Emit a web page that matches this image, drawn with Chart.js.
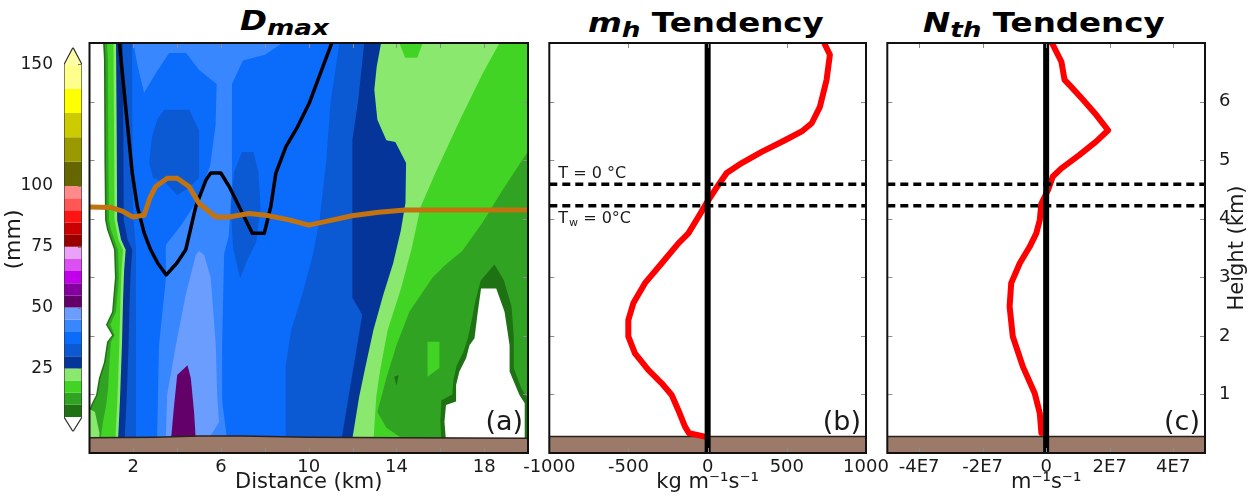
<!DOCTYPE html>
<html>
<head>
<meta charset="utf-8">
<script src="https://cdn.jsdelivr.net/npm/chart.js@4.4.1/dist/chart.umd.min.js"></script>
<style>
html,body{margin:0;padding:0;background:#fff;}
body{width:1258px;height:496px;position:relative;overflow:hidden;font-family:"DejaVu Sans",Verdana,sans-serif;color:#000;}
.cv{position:absolute;}
.ttl{position:absolute;font-weight:bold;font-size:26px;line-height:1;white-space:nowrap;color:#000;transform:scaleX(1.25);transform-origin:left top;}
.ttl i{font-style:italic;}
.ttl sub{font-size:21px;vertical-align:-5px;line-height:0;}
</style>
</head>
<body>
<div class="ttl" style="left:240px;top:8px"><i>D<sub>max</sub></i></div>
<div class="ttl" style="left:588px;top:9.5px"><i>m<sub>h</sub></i> Tendency</div>
<div class="ttl" style="left:923px;top:9.5px"><i>N<sub>th</sub></i> Tendency</div>
<div class="cv" style="left:0;top:40px;width:90px;height:400px"><canvas id="cb" width="90" height="400" style="width:90px;height:400px"></canvas></div>
<div class="cv" style="left:60px;top:38px;width:480px;height:458px"><canvas id="pa" width="480" height="458" style="width:480px;height:458px"></canvas></div>
<div class="cv" style="left:500px;top:38px;width:400px;height:458px"><canvas id="pb" width="400" height="458" style="width:400px;height:458px"></canvas></div>
<div class="cv" style="left:840px;top:38px;width:418px;height:458px"><canvas id="pc" width="418" height="458" style="width:418px;height:458px"></canvas></div>
<script>
// ---------------- data ----------------
const heightTicks = [1, 2, 3, 4, 5, 6];
const distTicks = [2, 4, 6, 8, 10, 12, 14, 16, 18];
const distTickLabels = ['2', '6', '10', '14', '18'];
const mhTicks = [-1000, -500, 0, 500, 1000];
const nthTicks = [-4e7, -2e7, 0, 2e7, 4e7];
const nthTickLabels = ['-4E7', '-2E7', '0', '2E7', '4E7'];

// colour bar (mm)
const cbLevels = [5,10,15,20,25,30,35,40,45,50,55,60,65,70,75,80,85,90,95,100,110,120,130,140,150];
const cbColors = ['#1f7214','#31a322','#42d424','#8ae86e','#053598','#0b59d3','#0b6cfb','#3987ff','#6b9dff',
                  '#63006a','#85009e','#c300ec','#db4ff3','#e9a2f7','#990000','#cc0000','#ff1414','#ff5656','#ff8a8a',
                  '#666600','#9a9a00','#cbcb00','#ffff00','#ffff8c'];
const cbOverColor = '#ffffa6';
const cbUnderColor = '#ffffff';
const cbTickValues = [25, 50, 75, 100, 150];

// panel (a): contour boundaries of Dmax (x = distance km, y = height km)
const edgeWhiteLeft = [[0.62,7.0],[0.66,6.71],[0.68,5.0],[0.71,3.98],[0.80,3.81],[1.12,3.47],[1.16,2.99],[1.03,2.41],[0.75,2.19],[1.03,2.01],[0.80,1.90],[0.66,1.55],[0.43,1.28],[0.30,0.99],[0.07,0.82],[0,0.73]];
const edgeGreen15Left = [[0.80,7.0],[0.84,6.71],[0.86,5.0],[0.89,3.98],[0.98,3.81],[1.30,3.47],[1.34,2.99],[1.21,2.41],[0.95,2.19],[1.15,2.01],[0.98,1.90],[0.90,1.5],[0.85,1.1],[0.75,0.8],[0.60,0.5],[0.50,0.2]];
const cornerLeft = [[0,0.75],[0.25,0.7],[0.45,0.35],[0.45,0.2],[0,0.2]];
const edgeBlueLeft = [[1.21,7.0],[1.24,5.5],[1.26,3.98],[1.44,3.64],[1.65,3.47],[1.58,3.12],[1.53,2.61],[1.48,1.84],[1.39,0.90],[1.30,0.2]];
const edgeMainLeft = [[1.94,7.0],[1.96,5.0],[2.0,4.0],[2.12,3.5],[2.12,2.0],[2.12,0.2]];
const edgeMainRight = [[11.4,7.0],[11.0,6.0],[10.8,5.0],[10.5,4.0],[10.2,3.4],[9.7,2.7],[9.2,2.1],[8.95,1.5],[8.93,0.2]];
const edgeNavyLeft = [[12.53,7.0],[12.26,6.03],[11.99,5.34],[11.99,2.65],[12.44,2.36],[11.48,0.2]];
const edgeNavyRight = [[13.30,7.0],[13.1,6.6],[12.99,6.2],[13.13,5.69],[13.54,5.34],[13.95,5.31],[14.44,4.95],[14.41,4.27],[14.2,3.8],[13.85,3.24],[13.4,2.7],[12.95,2.1],[12.6,1.5],[12.3,0.96],[11.97,0.2]];
const edgeGreen20Right = [[18.7,7.0],[17.95,6.49],[16.9,5.69],[15.8,4.8],[15.1,4.2],[14.7,3.5],[14.2,2.8],[13.6,2.1],[13.25,1.4],[13.08,0.96],[12.95,0.2]];
const edgeGreen15Right = [[20,5.15],[18.84,4.49],[17.92,3.93],[17.0,3.45],[16.2,3.2],[15.64,2.99],[14.59,2.41],[14.0,1.84],[13.54,1.28],[13.13,0.70],[13.54,0.43],[14.45,0.2]];
const rimDark = [[18.47,3.22],[18.9,2.95],[19.25,2.5],[19.35,2.0],[19.35,1.45],[19.7,1.1],[19.95,0.95],[20,0.2],[16.05,0.2],[16.0,0.55],[16.05,0.9],[16.55,1.0],[16.6,1.25],[16.75,1.5],[17.05,1.72],[17.25,1.95],[17.45,2.3],[17.6,2.6],[17.85,2.95]];
const holeWhite = [[17.86,2.81],[18.55,2.81],[18.93,2.41],[19.16,1.84],[19.16,1.39],[19.61,0.99],[19.85,0.85],[19.85,0.2],[16.26,0.2],[16.19,0.53],[16.26,0.82],[16.72,0.88],[16.72,1.16],[16.87,1.39],[17.18,1.62],[17.33,1.84],[17.56,1.96],[17.71,2.41]];
const patchGreen = [[15.42,1.90],[15.96,1.90],[15.96,1.45],[15.42,1.30]];
const spotDark = [[13.9,1.3],[14.1,1.33],[14.0,1.15]];
const notchGreen = [[14.13,7.0],[15.2,7.0],[14.95,6.75],[14.4,6.75]];
const oval1 = [[3.4,5.86],[4.55,5.86],[5.0,5.5],[5.0,4.7],[4.6,4.55],[4.0,4.4],[3.5,4.6],[2.9,4.7],[2.72,4.95],[2.85,5.4],[3.1,5.7]];
const oval2 = [[6.95,5.14],[7.48,5.14],[7.7,4.8],[7.8,4.2],[7.6,3.6],[7.2,3.3],[6.87,2.98],[6.55,3.5],[6.45,4.2],[6.6,4.8]];
const light40 = [[2.0,7.0],[8.8,7.0],[8.0,6.8],[7.0,6.7],[6.5,6.3],[6.5,4.6],[6.35,3.7],[6.14,3.4],[6.05,1.84],[6.05,0.9],[6.28,0.2],[3.08,0.2],[3.17,1.84],[3.49,3.0],[3.48,3.55],[4.2,3.9],[4.9,4.3],[5.5,4.9],[5.75,5.6],[5.8,6.3],[5.0,6.54],[4.41,6.83],[3.63,6.83],[3.04,6.49],[2.49,6.15],[2.2,6.6]];
const light45 = [[5.0,3.45],[5.23,3.38],[5.53,2.99],[5.76,1.84],[5.82,0.99],[5.91,0.53],[5.37,0.2],[3.48,0.2],[3.54,0.99],[3.94,1.84],[4.39,2.70],[4.85,3.38]];
const purple50 = [[4.47,1.50],[4.62,1.28],[4.77,0.70],[4.85,0.2],[3.71,0.2],[3.86,0.82],[4.0,1.33]];
const groundTopA = [[0,0.26],[3,0.27],[5,0.29],[7,0.29],[10,0.27],[14,0.26],[20,0.25]];
const contourBlack = [[1.35,7.05],[1.65,5.91],[1.95,4.78],[2.18,4.21],[2.49,3.76],[2.79,3.47],[3.1,3.25],[3.5,3.04],[3.98,3.24],[4.39,3.47],[4.85,4.21],[5.31,4.66],[5.53,4.78],[5.99,4.78],[6.37,4.55],[6.98,4.09],[7.43,3.75],[7.97,3.75],[8.27,4.21],[8.50,4.78],[8.96,5.23],[9.49,5.57],[10.02,5.97],[10.5,6.45],[11.1,7.05]];
const meltLine = [[0,4.2],[1.0,4.19],[1.5,4.13],[1.96,4.03],[2.49,4.06],[2.75,4.35],[3.02,4.55],[3.55,4.69],[4.0,4.69],[4.54,4.55],[5.0,4.26],[5.76,4.03],[6.37,4.03],[7.28,4.09],[8.05,4.06],[9.1,3.98],[10.0,3.89],[10.75,3.95],[11.97,4.05],[13.19,4.11],[14.4,4.15],[16.54,4.15],[20,4.15]];

// panels (b) and (c)
const groundTop = 0.28;
const freezeT = 4.59;
const freezeTw = 4.22;
const mhHeight = [7.05,6.97,6.80,6.37,5.91,5.63,5.49,5.34,5.14,4.95,4.78,4.49,4.27,4.03,3.75,3.58,3.24,2.90,2.56,2.27,1.99,1.70,1.42,1.19,0.99,0.73,0.45,0.34,0.28];
const mhValue  = [730,741,772,751,709,657,594,488,341,215,120,46,-6,-59,-122,-185,-290,-396,-469,-501,-501,-459,-375,-290,-227,-185,-143,-118,-17];
const nthHeight = [7.05,6.97,6.68,6.37,6.25,6.03,5.77,5.51,5.32,5.09,4.86,4.72,4.49,4.26,3.98,3.75,3.52,3.24,2.90,2.50,1.99,1.47,1.02,0.68,0.34];
const nthValue  = [0.12e7,0.21e7,0.48e7,0.58e7,0.79e7,1.16e7,1.58e7,1.95e7,1.58e7,1.05e7,0.48e7,0.21e7,0.06e7,-0.15e7,-0.20e7,-0.31e7,-0.52e7,-0.83e7,-1.10e7,-1.15e7,-1.05e7,-0.73e7,-0.36e7,-0.20e7,-0.15e7];

// ---------------- helpers ----------------
Chart.defaults.font.family = "'DejaVu Sans', Verdana, sans-serif";
Chart.defaults.color = '#1a1a1a';
const FONT = "'DejaVu Sans', Verdana, sans-serif";
const BROWN = '#9b7a69';
const bandColor = lo => cbColors[cbLevels.indexOf(lo)];
const pts = arr => arr.map(p => ({x: p[0], y: p[1]}));
const shift = (arr, dx) => arr.map(p => [p[0] + dx, p[1]]);
const rev = arr => arr.slice().reverse();
function poly(arr, color) {
  return {data: pts(arr), fill: 'shape', backgroundColor: color, borderColor: 'rgba(0,0,0,0)', borderWidth: 0, pointRadius: 0, tension: 0};
}
function curve(arr, color, width, extra) {
  return Object.assign({data: pts(arr), fill: false, borderColor: color, borderWidth: width, pointRadius: 0, tension: 0,
    borderJoinStyle: 'round', borderCapStyle: 'round'}, extra || {});
}
const zip = (xs, ys) => xs.map((x, i) => [x, ys[i]]);
// Chart.js paints dataset 0 last (on top); layers are listed bottom-first, so reverse them
const painterOrder = layers => layers.slice().reverse();
const noVPad = s => { s.paddingTop = 0; s.paddingBottom = 0; };

const framePlugin = {
  id: 'frame',
  afterDatasetsDraw(chart, args, o) {
    const {ctx, chartArea: a} = chart;
    const xs = chart.scales.x, ys = chart.scales.y;
    ctx.save();
    const len = o.len || 5;
    ctx.strokeStyle = o.tickColor || '#8c8c8c';
    ctx.lineWidth = 1;
    ctx.beginPath();
    (o.xTicks || []).forEach(v => {
      const p = Math.round(xs.getPixelForValue(v)) + 0.5;
      ctx.moveTo(p, a.bottom); ctx.lineTo(p, a.bottom - len);
      ctx.moveTo(p, a.top); ctx.lineTo(p, a.top + len);
    });
    (o.yTicks || []).forEach(v => {
      const p = Math.round(ys.getPixelForValue(v)) + 0.5;
      if (o.leftTicks !== false) { ctx.moveTo(a.left, p); ctx.lineTo(a.left + len, p); }
      ctx.moveTo(a.right, p); ctx.lineTo(a.right - len, p);
    });
    ctx.stroke();
    if (o.frame) {
      ctx.lineWidth = o.frame; ctx.strokeStyle = '#111';
      ctx.strokeRect(a.left, a.top, a.right - a.left, a.bottom - a.top);
    }
    ctx.fillStyle = '#1a1a1a';
    if (o.label) {
      ctx.font = '27px ' + FONT; ctx.textAlign = 'right'; ctx.textBaseline = 'alphabetic';
      ctx.fillText(o.label, a.right - 5, a.bottom - 23.5);
    }
    if (o.freezeLabels) {
      const x0 = a.left + 9;
      ctx.textAlign = 'left'; ctx.textBaseline = 'alphabetic';
      ctx.font = '16px ' + FONT;
      ctx.fillText('T = 0 °C', x0, ys.getPixelForValue(freezeT) - 6);
      const yb = ys.getPixelForValue(freezeTw) + 17.5;
      ctx.fillText('T', x0, yb);
      let w = ctx.measureText('T').width + 1;
      ctx.font = '11px ' + FONT;
      ctx.fillText('w', x0 + w, yb + 3);
      w += ctx.measureText('w').width;
      ctx.font = '16px ' + FONT;
      ctx.fillText(' = 0°C', x0 + w, yb);
    }
    if (o.rightTitle) {
      ctx.save();
      ctx.translate(chart.width - 20, (a.top + a.bottom) / 2);
      ctx.rotate(-Math.PI / 2);
      ctx.font = '21px ' + FONT; ctx.textAlign = 'center'; ctx.textBaseline = 'middle';
      ctx.fillText(o.rightTitle, 0, 0);
      ctx.restore();
    }
    ctx.restore();
  }
};

const baseOpts = {responsive: false, animation: false, events: [], devicePixelRatio: 1};

// ---------------- colour bar ----------------
const cbLayers = [];
for (let i = 0; i < cbColors.length; i++) {
  cbLayers.push(poly([[0, cbLevels[i]], [1, cbLevels[i]], [1, cbLevels[i + 1]], [0, cbLevels[i + 1]]], cbColors[i]));
}
cbLayers.push(poly([[0, 150], [1, 150], [0.5, 157]], cbOverColor));
cbLayers.push(poly([[0, 5], [1, 5], [0.5, -1]], cbUnderColor));
cbLayers.push(curve([[0, 5], [0.5, -1], [1, 5], [1, 150], [0.5, 157], [0, 150], [0, 5]], '#333', 1.2, {borderCapStyle: 'butt', borderJoinStyle: 'miter'}));
new Chart(document.getElementById('cb'), {
  type: 'line',
  data: {datasets: painterOrder(cbLayers)},
  options: Object.assign({}, baseOpts, {
    layout: {padding: {left: 0, right: 8, top: 7.4, bottom: 8.4}},
    plugins: {legend: {display: false}, tooltip: {enabled: false}, frame: {yTicks: cbTickValues, leftTicks: false, len: 4, tickColor: '#777'}},
    scales: {
      x: {type: 'linear', min: 0, max: 1, display: false},
      y: {type: 'linear', min: -1, max: 157,
        afterBuildTicks: s => { s.ticks = cbTickValues.map(v => ({value: v})); },
        afterFit: s => { s.width = 64; noVPad(s); },
        grid: {display: false}, border: {display: false},
        ticks: {autoSkip: false, padding: 3, font: {size: 17}, color: '#1a1a1a'},
        title: {display: true, text: '(mm)', font: {size: 22}, color: '#1a1a1a', padding: {top: 1, bottom: 0}}}
    }
  }),
  plugins: [framePlugin]
});

// ---------------- panel (a) ----------------
const aLayers = [
  poly([[11, 7], [20, 7], [20, 0.2], [11, 0.2]], bandColor(15)),
  poly([...edgeGreen15Right, [20, 0.2]], bandColor(10)),
  poly(rimDark, bandColor(5)),
  poly(holeWhite, cbUnderColor),
  poly(patchGreen, bandColor(15)),
  poly(spotDark, bandColor(5)),
  poly([...shift(edgeNavyRight, -0.15), ...rev(edgeGreen20Right)], bandColor(20)),
  poly(notchGreen, bandColor(15)),
  poly([...edgeWhiteLeft, [0, 0.2], ...rev(shift(edgeBlueLeft, 0.1))], bandColor(5)),
  poly([...shift(edgeWhiteLeft, 0.07), [0.07, 0.2], ...rev(shift(edgeBlueLeft, 0.1))], bandColor(10)),
  poly([...edgeGreen15Left, ...rev(shift(edgeBlueLeft, 0.1))], bandColor(15)),
  poly(cornerLeft, bandColor(20)),
  poly([...shift(edgeBlueLeft, -0.12), ...rev(shift(edgeBlueLeft, 0.1))], bandColor(20)),
  poly([...edgeBlueLeft, ...rev(edgeNavyRight)], bandColor(25)),
  poly([...shift(edgeBlueLeft, 0.3), ...rev(edgeNavyLeft)], bandColor(30)),
  poly([...edgeMainLeft, ...rev(edgeMainRight)], bandColor(35)),
  poly(oval1, bandColor(30)),
  poly(oval2, bandColor(30)),
  poly(light40, bandColor(40)),
  poly(light45, bandColor(45)),
  poly(purple50, bandColor(50)),
  poly([...groundTopA, [20, 0], [0, 0]], BROWN),
  curve(groundTopA, '#2b211c', 1.5),
  curve(contourBlack, '#000', 3.5),
  curve(meltLine, '#c2720f', 5)
];
new Chart(document.getElementById('pa'), {
  type: 'line',
  data: {datasets: painterOrder(aLayers)},
  options: Object.assign({}, baseOpts, {
    layout: {padding: {left: 29.5, right: 12, top: 5, bottom: 0}},
    plugins: {legend: {display: false}, tooltip: {enabled: false},
      frame: {xTicks: distTicks, yTicks: heightTicks, frame: 2, label: '(a)'}},
    scales: {
      x: {type: 'linear', min: 0, max: 20,
        afterBuildTicks: s => { s.ticks = distTicks.map(v => ({value: v})); },
        afterFit: s => { s.height = 43; },
        grid: {display: false}, border: {display: false},
        ticks: {autoSkip: false, maxRotation: 0, padding: -4, font: {size: 18}, color: '#1a1a1a',
          callback: v => distTickLabels.includes(String(v)) ? String(v) : ''},
        title: {display: true, text: 'Distance (km)', font: {size: 21}, color: '#1a1a1a', padding: {top: 0, bottom: 1}}},
      y: {type: 'linear', min: 0, max: 7, display: false}
    }
  }),
  plugins: [framePlugin]
});

// ---------------- panel (b) ----------------
const bLayers = [
  poly([[-1000, 0], [1000, 0], [1000, groundTop], [-1000, groundTop]], BROWN),
  curve([[-1000, groundTop], [1000, groundTop]], '#2b211c', 1.5),
  curve(zip(mhValue, mhHeight), '#ff0000', 6),
  curve([[-1000, freezeT], [1000, freezeT]], '#000', 3.5, {borderDash: [8, 5], borderCapStyle: 'butt'}),
  curve([[-1000, freezeTw], [1000, freezeTw]], '#000', 3.5, {borderDash: [8, 5], borderCapStyle: 'butt'}),
  curve([[0, 0], [0, 7]], '#000', 6, {borderCapStyle: 'butt'})
];
new Chart(document.getElementById('pb'), {
  type: 'line',
  data: {datasets: painterOrder(bLayers)},
  options: Object.assign({}, baseOpts, {
    layout: {padding: {left: 49.3, right: 34, top: 5, bottom: 0}},
    plugins: {legend: {display: false}, tooltip: {enabled: false},
      frame: {xTicks: mhTicks.slice(1, -1), yTicks: heightTicks, frame: 2, label: '(b)', freezeLabels: true}},
    scales: {
      x: {type: 'linear', min: -1000, max: 1000,
        afterBuildTicks: s => { s.ticks = mhTicks.map(v => ({value: v})); },
        afterFit: s => { s.height = 43; },
        grid: {display: false}, border: {display: false},
        ticks: {autoSkip: false, maxRotation: 0, padding: -4, font: {size: 18}, color: '#1a1a1a', callback: v => String(v)},
        title: {display: true, text: 'kg m⁻¹s⁻¹', font: {size: 21}, color: '#1a1a1a', padding: {top: 0, bottom: 1}}},
      y: {type: 'linear', min: 0, max: 7, display: false}
    }
  }),
  plugins: [framePlugin]
});

// ---------------- panel (c) ----------------
const cLayers = [
  poly([[-5e7, 0], [5e7, 0], [5e7, groundTop], [-5e7, groundTop]], BROWN),
  curve([[-5e7, groundTop], [5e7, groundTop]], '#2b211c', 1.5),
  curve(zip(nthValue, nthHeight), '#ff0000', 6),
  curve([[-5e7, freezeT], [5e7, freezeT]], '#000', 3.5, {borderDash: [8, 5], borderCapStyle: 'butt'}),
  curve([[-5e7, freezeTw], [5e7, freezeTw]], '#000', 3.5, {borderDash: [8, 5], borderCapStyle: 'butt'}),
  curve([[0, 0], [0, 7]], '#000', 6, {borderCapStyle: 'butt'})
];
new Chart(document.getElementById('pc'), {
  type: 'line',
  data: {datasets: painterOrder(cLayers)},
  options: Object.assign({}, baseOpts, {
    layout: {padding: {left: 47.3, right: 0, top: 5, bottom: 0}},
    plugins: {legend: {display: false}, tooltip: {enabled: false},
      frame: {xTicks: nthTicks, yTicks: heightTicks, frame: 2, label: '(c)', rightTitle: 'Height (km)'}},
    scales: {
      x: {type: 'linear', min: -5e7, max: 5e7,
        afterBuildTicks: s => { s.ticks = nthTicks.map(v => ({value: v})); },
        afterFit: s => { s.height = 43; },
        grid: {display: false}, border: {display: false},
        ticks: {autoSkip: false, maxRotation: 0, padding: -4, font: {size: 18}, color: '#1a1a1a',
          callback: v => nthTickLabels[nthTicks.indexOf(v)]},
        title: {display: true, text: 'm⁻¹s⁻¹', font: {size: 21}, color: '#1a1a1a', padding: {top: 0, bottom: 1}}},
      y: {type: 'linear', position: 'right', min: 0, max: 7,
        afterBuildTicks: s => { s.ticks = heightTicks.map(v => ({value: v})); },
        afterFit: s => { s.width = 53; noVPad(s); },
        grid: {display: false}, border: {display: false},
        ticks: {autoSkip: false, padding: 6, font: {size: 18}, color: '#1a1a1a', callback: v => String(v)}}
    }
  }),
  plugins: [framePlugin]
});
</script>
</body>
</html>
